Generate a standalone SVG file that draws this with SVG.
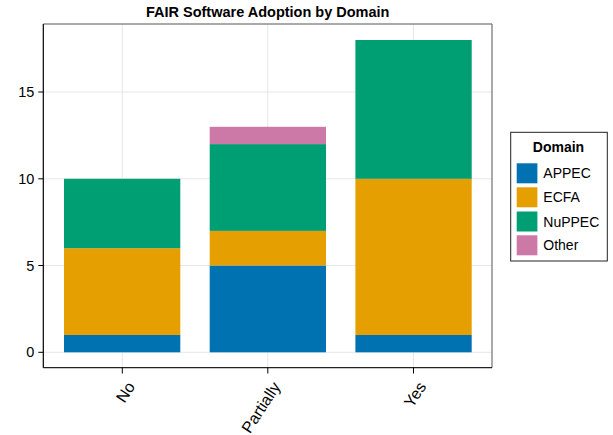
<svg xmlns="http://www.w3.org/2000/svg" width="613" height="435" viewBox="0 0 613 435">
  <style>
    text { font-family: "Liberation Sans", Arial, sans-serif; fill: #000; }
    .title { font-size: 14.5px; font-weight: bold; text-anchor: middle; }
    .ytick { font-size: 14.5px; text-anchor: end; dominant-baseline: central; }
    .xtick { font-size: 16px; text-anchor: end; dominant-baseline: central; }
    .grid { stroke: #e6e6e6; stroke-width: 1; }
    .tick { stroke: #000; stroke-width: 1; }
    .appec { fill: #0072B2; }
    .ecfa { fill: #E69F00; }
    .nuppec { fill: #009E73; }
    .other { fill: #CC79A7; }
    .leg-label { font-size: 14px; }
    .leg-title { font-size: 14px; font-weight: bold; text-anchor: middle; }
  </style>

  <rect x="0" y="0" width="613" height="435" fill="#fff"/>

  <text class="title" x="267.7" y="17.3">FAIR Software Adoption by Domain</text>

  <!-- grid -->
  <g id="grid">
    <line class="grid" x1="122.3" y1="24" x2="122.3" y2="367.7"/>
    <line class="grid" x1="267.8" y1="24" x2="267.8" y2="367.7"/>
    <line class="grid" x1="413.5" y1="24" x2="413.5" y2="367.7"/>
    <line class="grid" x1="43.3" y1="352.3" x2="492" y2="352.3"/>
    <line class="grid" x1="43.3" y1="265.5" x2="492" y2="265.5"/>
    <line class="grid" x1="43.3" y1="178.8" x2="492" y2="178.8"/>
    <line class="grid" x1="43.3" y1="92.0" x2="492" y2="92.0"/>
  </g>

  <!-- stacked bars, one group per category -->
  <g id="bar-no">
    <rect class="appec" x="64" y="335.0" width="116.3" height="17.3"/>
    <rect class="ecfa" x="64" y="248.2" width="116.3" height="86.8"/>
    <rect class="nuppec" x="64" y="178.8" width="116.3" height="69.4"/>
  </g>
  <g id="bar-partially">
    <rect class="appec" x="209.7" y="265.5" width="116.3" height="86.8"/>
    <rect class="ecfa" x="209.7" y="230.9" width="116.3" height="34.6"/>
    <rect class="nuppec" x="209.7" y="144.1" width="116.3" height="86.8"/>
    <rect class="other" x="209.7" y="126.8" width="116.3" height="17.3"/>
  </g>
  <g id="bar-yes">
    <rect class="appec" x="355.4" y="335.0" width="116.3" height="17.3"/>
    <rect class="ecfa" x="355.4" y="178.8" width="116.3" height="156.2"/>
    <rect class="nuppec" x="355.4" y="40.0" width="116.3" height="138.8"/>
  </g>

  <!-- axes frame -->
  <g id="axes">
    <line x1="43.3" y1="24" x2="492" y2="24" stroke="#555" stroke-width="1"/>
    <line x1="492" y1="24" x2="492" y2="367.7" stroke="#555" stroke-width="1"/>
    <line x1="43.3" y1="367.7" x2="492" y2="367.7" stroke="#222" stroke-width="1.2"/>
    <line x1="43.3" y1="24" x2="43.3" y2="367.7" stroke="#000" stroke-width="1.2"/>

    <line class="tick" x1="38.3" y1="352.3" x2="43.3" y2="352.3"/>
    <line class="tick" x1="38.3" y1="265.5" x2="43.3" y2="265.5"/>
    <line class="tick" x1="38.3" y1="178.8" x2="43.3" y2="178.8"/>
    <line class="tick" x1="38.3" y1="92.0" x2="43.3" y2="92.0"/>
    <text class="ytick" x="34.3" y="352.3">0</text>
    <text class="ytick" x="34.3" y="265.5">5</text>
    <text class="ytick" x="34.3" y="178.8">10</text>
    <text class="ytick" x="34.3" y="92.0">15</text>

    <line class="tick" x1="122.3" y1="367.7" x2="122.3" y2="373.5"/>
    <line class="tick" x1="267.8" y1="367.7" x2="267.8" y2="373.5"/>
    <line class="tick" x1="413.5" y1="367.7" x2="413.5" y2="373.5"/>
    <text class="xtick" x="131" y="383.5" transform="rotate(-57 131 383.5)">No</text>
    <text class="xtick" x="276.5" y="383.5" transform="rotate(-57 276.5 383.5)">Partially</text>
    <text class="xtick" x="422.2" y="383.5" transform="rotate(-57 422.2 383.5)">Yes</text>
  </g>

  <!-- legend -->
  <g id="legend">
    <rect x="510.7" y="132.3" width="96.6" height="128.7" fill="#fff" stroke="#222" stroke-width="1"/>
    <text class="leg-title" x="558.5" y="151.5">Domain</text>
    <rect class="appec" x="516.7" y="163.3" width="20.7" height="20"/>
    <rect class="ecfa" x="516.7" y="187.3" width="20.7" height="20"/>
    <rect class="nuppec" x="516.7" y="211.5" width="20.7" height="20"/>
    <rect class="other" x="516.7" y="235.3" width="20.7" height="20"/>
    <text class="leg-label" x="543.3" y="178.3">APPEC</text>
    <text class="leg-label" x="543.3" y="202.3">ECFA</text>
    <text class="leg-label" x="543.3" y="226.5">NuPPEC</text>
    <text class="leg-label" x="543.3" y="250.3">Other</text>
  </g>
</svg>
